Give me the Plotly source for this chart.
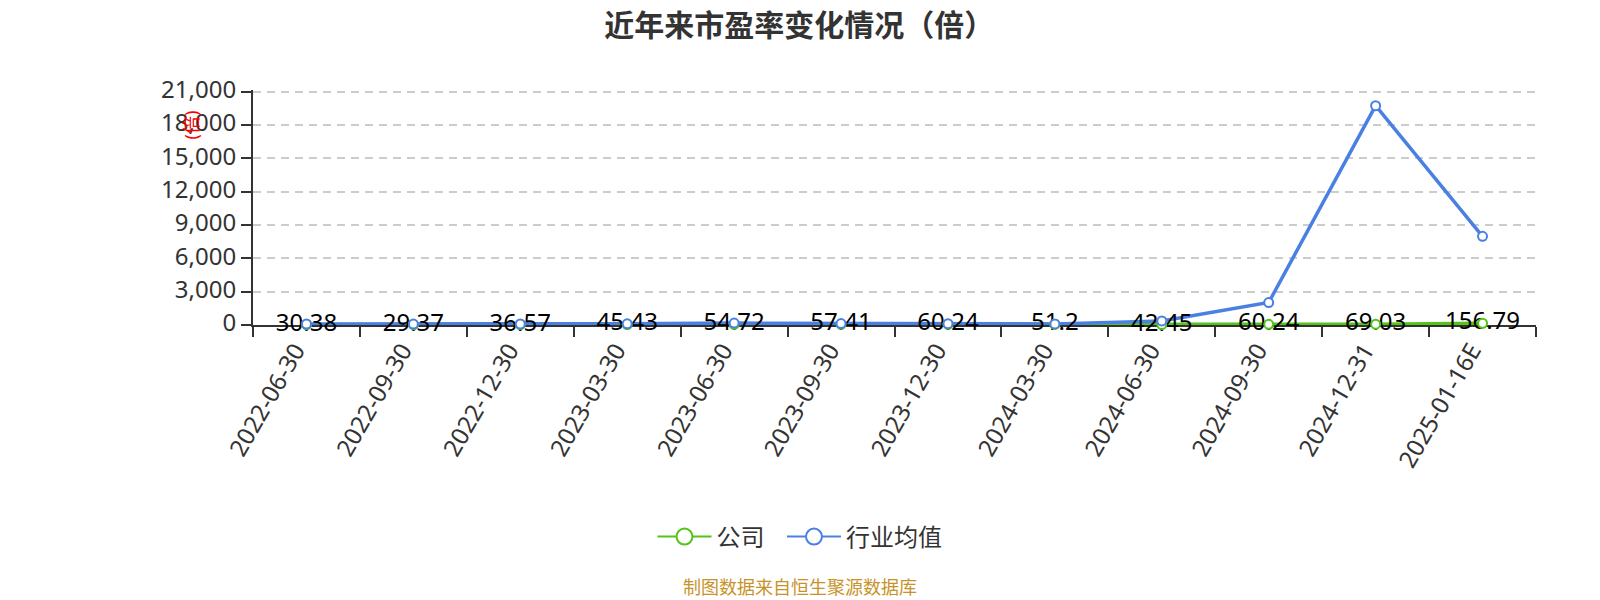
import plotly.graph_objects as go

# Data
dates = ['2022-06-30', '2022-09-30', '2022-12-30', '2023-03-30', '2023-06-30', '2023-09-30',
         '2023-12-30', '2024-03-30', '2024-06-30', '2024-09-30', '2024-12-31', '2025-01-16E']
company = [30.38, 29.37, 36.57, 45.43, 54.72, 57.41, 60.24, 51.2, 42.45, 60.24, 69.03, 156.79]
industry = [90, 85, 90, 110, 170, 130, 120, 100, 370, 2020, 19720, 7980]
y_ticks = [0, 3000, 6000, 9000, 12000, 15000, 18000, 21000]

latin_cjk = 'Noto Sans, Noto Sans CJK SC, sans-serif'
green = '#52c41a'
blue = '#4a80e2'

fig = go.Figure()

# order matters: lines, then the labels, then the markers on top of the labels
fig.add_trace(go.Scatter(x=dates, y=company, name='公司', mode='lines', showlegend=False,
                         line=dict(color=green, width=3.5), cliponaxis=False))
fig.add_trace(go.Scatter(x=dates, y=industry, name='行业均值', mode='lines', showlegend=False,
                         line=dict(color=blue, width=3.5), cliponaxis=False))
fig.add_trace(go.Scatter(x=dates, y=company, name='公司', mode='text', showlegend=False,
                         text=[str(v) for v in company], textposition='middle center',
                         textfont=dict(size=24, color='#000000'), cliponaxis=False))
fig.add_trace(go.Scatter(x=dates, y=company, name='公司', mode='markers', showlegend=False,
                         marker=dict(size=9, color='white', line=dict(color=green, width=2)),
                         cliponaxis=False))
fig.add_trace(go.Scatter(x=dates, y=industry, name='行业均值', mode='markers', showlegend=False,
                         marker=dict(size=9, color='white', line=dict(color=blue, width=2)),
                         cliponaxis=False))

# legend entries only, the legend line is thinner than the plotted one
fig.add_trace(go.Scatter(x=[None], y=[None], name='公司\u00a0\u00a0', mode='lines+markers',
                         line=dict(color=green, width=2),
                         marker=dict(size=16, color='white', line=dict(color=green, width=2))))
fig.add_trace(go.Scatter(x=[None], y=[None], name='行业均值', mode='lines+markers',
                         line=dict(color=blue, width=2),
                         marker=dict(size=16, color='white', line=dict(color=blue, width=2))))

fig.update_layout(
    width=1584, height=592,
    autosize=False,
    margin=dict(l=245, r=55.5, t=81.5, b=275),
    paper_bgcolor='white',
    plot_bgcolor='white',
    font=dict(family=latin_cjk, color='#333333', size=24),
    title=dict(text='<b>近年来市盈率变化情况（倍）</b>', x=0.4995, xanchor='center', y=0.97, yanchor='middle',
               font=dict(size=30, color='#333333', family=latin_cjk)),
    legend=dict(orientation='h', xref='container', x=0.5, xanchor='center', yref='container', y=0.1064,
                yanchor='middle', itemwidth=54, font=dict(size=24, color='#333333')),
)

fig.update_xaxes(type='category', categoryorder='array', categoryarray=dates, range=[-0.5, 11.5],
                 tickson='boundaries', ticks='outside', ticklen=10, tickwidth=2, tickcolor='#333333',
                 tickangle=-60, ticklabelshift=-11, showgrid=False, zeroline=False,
                 showline=True, linecolor='#333333', linewidth=2, layer='below traces',
                 tickfont=dict(size=24, color='#333333'))
# top of the range a bit over 21000, otherwise plotly drops the last gridline
fig.update_yaxes(range=[0, 21135], tickvals=y_ticks, tickformat=',', ticks='outside', ticklen=10,
                 tickwidth=2, tickcolor='#333333', showgrid=True, gridcolor='#cccccc', griddash='8px,6px',
                 gridwidth=2, zeroline=False, showline=True, linecolor='#333333', linewidth=2,
                 layer='below traces', ticklabelshift=-2, tickfont=dict(size=24, color='#333333'))

# y axis unit, sits on top of the tick labels in the original
fig.add_annotation(text='(倍)', xref='paper', yref='paper', x=-0.0483, y=0.849, xanchor='center', yanchor='middle',
                   textangle=-90, showarrow=False, font=dict(size=18, color='#ff0000'))
fig.add_annotation(text='制图数据来自恒生聚源数据库', xref='paper', yref='paper', x=0.4262, y=-1.117,
                   xanchor='center', yanchor='middle', showarrow=False, font=dict(size=18, color='#c8922a'))

fig.write_html("out.html")
